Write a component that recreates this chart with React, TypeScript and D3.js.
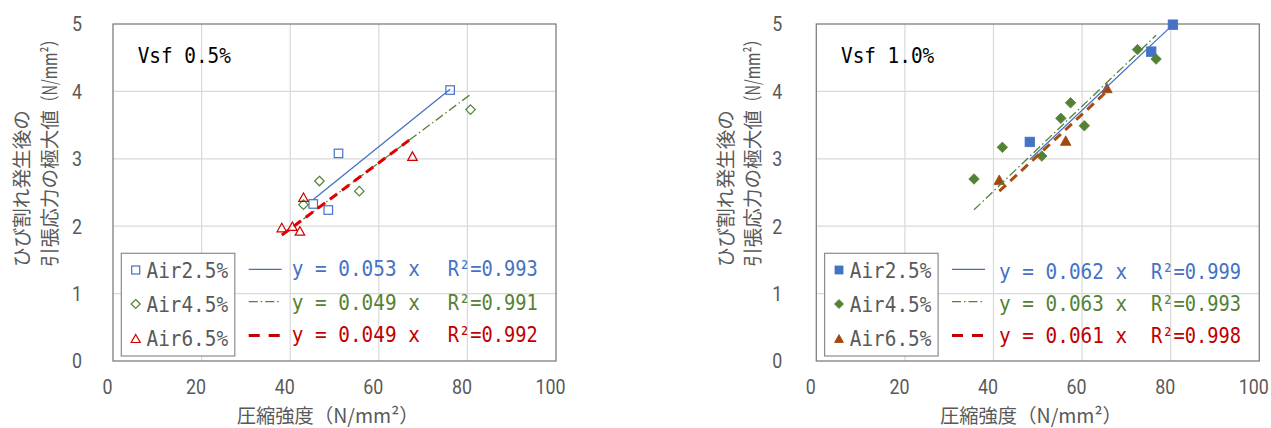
import React from "react";
import * as d3 from "d3";

// ---------- data ----------
const X_TICKS = [0, 20, 40, 60, 80, 100];
const Y_TICKS = [0, 1, 2, 3, 4, 5];
const SERIES_NAMES = ["Air2.5%", "Air4.5%", "Air6.5%"];

// Vsf 0.5%
const L_TITLE = "Vsf 0.5%";
const L_A25_X = [76.1, 50.9, 45.2, 48.6];
const L_A25_Y = [4.02, 3.08, 2.33, 2.24];
const L_A45_X = [80.7, 46.6, 55.6, 43.0];
const L_A45_Y = [3.73, 2.67, 2.52, 2.32];
const L_A65_X = [38.1, 40.5, 42.2, 43.0, 67.6];
const L_A65_Y = [1.98, 2.0, 1.93, 2.43, 3.04];
const L_SLOPES = [0.053, 0.049, 0.049];
const L_R2 = ["0.993", "0.991", "0.992"];

// Vsf 1.0%
const R_TITLE = "Vsf 1.0%";
const R_A25_X = [80.5, 75.6, 48.2];
const R_A25_Y = [4.99, 4.59, 3.25];
const R_A45_X = [35.6, 42.0, 50.9, 55.2, 57.4, 60.5, 72.5, 76.7];
const R_A45_Y = [2.7, 3.17, 3.04, 3.6, 3.83, 3.49, 4.62, 4.48];
const R_A65_X = [41.3, 56.3, 65.6];
const R_A65_Y = [2.69, 3.27, 4.05];
const R_SLOPES = [0.062, 0.063, 0.061];
const R_R2 = ["0.999", "0.993", "0.998"];

const X_TITLE_JP = "圧縮強度";
const UNIT = "（N/mm²）";
const Y_TITLE_1 = "ひび割れ発生後の";
const Y_TITLE_2 = "引張応力の極大値";

// ---------- styles ----------
const MONO = "'DejaVu Sans Mono', monospace";
const NUM = "Roboto, 'Noto Sans', sans-serif";
const JP = "'Noto Sans CJK JP', sans-serif";
const GRAY = "#595959";
const BLUE = "#4472C4";
const GREEN = "#548235";
const RED = "#C00000";

type Txt = {
  x: number; y: number; text: string; size: number; family: string; fill: string;
  anchor?: string; sx?: number; rotate?: number; dy?: string; len?: number;
};
function T({ x, y, text, size, family, fill, anchor = "start", sx = 1, rotate = 0, dy = "0.35em", len }: Txt) {
  return (
    <text
      transform={`translate(${x},${y}) rotate(${rotate}) scale(${sx},1)`}
      fontSize={size}
      fontFamily={family}
      fill={fill}
      textAnchor={anchor}
      dy={dy}
      textLength={len}
      lengthAdjust={len ? "spacingAndGlyphs" : undefined}
    >
      {text}
    </text>
  );
}

function marker(shape: string, cx: number, cy: number, s: number, color: string, filled: boolean, key: any) {
  const common = {
    key,
    fill: filled ? color : "none",
    stroke: color,
    strokeWidth: filled ? 0.8 : 1.2,
  };
  const h = s / 2;
  if (shape === "square") return <rect {...common} x={cx - h} y={cy - h} width={s} height={s} />;
  if (shape === "diamond")
    return <path {...common} d={`M${cx},${cy - h - 0.5}L${cx + h + 0.5},${cy}L${cx},${cy + h + 0.5}L${cx - h - 0.5},${cy}Z`} />;
  return <path {...common} d={`M${cx},${cy - h}L${cx + h + 0.5},${cy + h}L${cx - h - 0.5},${cy + h}Z`} />;
}

type ChartProps = {
  left: number;
  title: string;
  xs: number[][];
  ys: number[][];
  slopes: number[];
  r2: string[];
  filled: boolean;
  markerColors: string[];
  trendColors: string[];
  eqX: number;
  eqY: number[];
  yTickOff: number;
};

function Chart(p: ChartProps) {
  const W = 443;
  const top = 24, bottom = 361;
  const x = d3.scaleLinear().domain([0, 100]).range([p.left, p.left + W]);
  const y = d3.scaleLinear().domain([0, 5]).range([bottom, top]);
  const shapes = ["square", "diamond", "triangle"];
  const dashes = ["none", "9 3 1.5 3", "9 6"];
  const widths = [1.3, 1.3, 3];
  const legDashes = ["none", "9 3 1.5 3", "11 9"];
  const legX = p.left + 8.3;
  const legRows = [270, 304, 338.5];
  const lineRows = [269.3, 301.7, 335.5];
  const mSize = p.filled ? 9.5 : 8.5;
  const colors = [BLUE, GREEN, RED];
  return (
    <g>
      {/* grid */}
      {X_TICKS.slice(1, -1).map((t) => (
        <line key={"gx" + t} x1={x(t)} x2={x(t)} y1={top} y2={bottom} stroke="#d9d9d9" strokeWidth={1.2} />
      ))}
      {Y_TICKS.slice(1, -1).map((t) => (
        <line key={"gy" + t} x1={p.left} x2={p.left + W} y1={y(t)} y2={y(t)} stroke="#d9d9d9" strokeWidth={1.2} />
      ))}
      <rect x={p.left} y={top} width={W} height={bottom - top} fill="none" stroke="#7f7f7f" strokeWidth={1.3} />
      {/* ticks */}
      {Y_TICKS.map((t) => (
        <T key={"ty" + t} x={p.left + p.yTickOff} y={y(t)} text={String(t)} size={21} family={NUM} fill={GRAY} anchor="end" sx={0.85} />
      ))}
      {X_TICKS.map((t) => (
        <T key={"tx" + t} x={x(t) - 5.5} y={387} text={String(t)} size={21} family={NUM} fill={GRAY} anchor="middle" sx={0.85} />
      ))}
      {/* axis titles */}
      <T x={p.left + 123.7} y={416} text={X_TITLE_JP} size={19.5} family={JP} fill={GRAY} len={77} />
      <T x={p.left + 200.7} y={416} text={UNIT} size={19.5} family={JP} fill={GRAY} len={105} />
      <T x={p.left - 90.5} y={267} text={Y_TITLE_1} size={19.6} family={JP} fill={GRAY} rotate={-90} len={157} />
      <T x={p.left - 63} y={267} text={Y_TITLE_2} size={19.6} family={JP} fill={GRAY} rotate={-90} len={157} />
      <T x={p.left - 63} y={110} text={UNIT} size={19.6} family={JP} fill={GRAY} rotate={-90} len={78} />
      {/* markers */}
      {p.xs.map((xs, si) =>
        xs.map((v, i) => marker(shapes[si], x(v), y(p.ys[si][i]), mSize, p.markerColors[si], p.filled, si + "-" + i))
      )}
      {/* trend lines through origin */}
      {p.xs.map((xs, si) => {
        const x0 = d3.min(xs) as number;
        const x1 = d3.max(xs) as number;
        return (
          <line
            key={"tr" + si}
            x1={x(x0)}
            y1={y(p.slopes[si] * x0)}
            x2={x(x1)}
            y2={y(p.slopes[si] * x1)}
            stroke={p.trendColors[si]}
            strokeWidth={widths[si]}
            strokeDasharray={dashes[si]}
          />
        );
      })}
      {/* title */}
      <T x={p.left + 24.7} y={55} text={p.title} size={22} family={MONO} fill="#000" sx={0.88} />
      {/* legend */}
      <rect x={legX} y={253.3} width={113.5} height={102.7} fill="#fff" stroke="#8c8c8c" strokeWidth={1.2} />
      {SERIES_NAMES.map((n, i) => (
        <g key={"lg" + i}>
          {marker(shapes[i], p.left + 22.7, legRows[i], 8, p.markerColors[i], p.filled, "lm" + i)}
          <T x={p.left + 33.5} y={legRows[i]} text={n} size={22} family={MONO} fill={GRAY} sx={0.88} />
          <line
            x1={p.left + 135.7}
            x2={p.left + 168.7}
            y1={lineRows[i]}
            y2={lineRows[i]}
            stroke={colors[i]}
            strokeWidth={widths[i]}
            strokeDasharray={legDashes[i]}
          />
          <T x={p.left + p.eqX} y={p.eqY[i]} text={`y = ${p.slopes[i].toFixed(3)} x`} size={22} family={MONO} fill={colors[i]} sx={0.88} />
          <T x={p.left + 334.7} y={p.eqY[i]} text={`R²=${p.r2[i]}`} size={22} family={MONO} fill={colors[i]} sx={0.85} />
        </g>
      ))}
    </g>
  );
}

export default function App() {
  return (
    <svg
      width={1271}
      height={428}
      style={{ position: "absolute", left: 0, top: 0, background: "#fff" }}
    >
      <rect width={1271} height={428} fill="#fff" />
      <Chart
        left={113}
        title={L_TITLE}
        xs={[L_A25_X, L_A45_X, L_A65_X]}
        ys={[L_A25_Y, L_A45_Y, L_A65_Y]}
        slopes={L_SLOPES}
        r2={L_R2}
        filled={false}
        markerColors={[BLUE, GREEN, "#D00000"]}
        trendColors={[BLUE, GREEN, "#E00000"]}
        eqX={178.7}
        eqY={[268.5, 302, 334]}
        yTickOff={-31}
      />
      <Chart
        left={816.3}
        title={R_TITLE}
        xs={[R_A25_X, R_A45_X, R_A65_X]}
        ys={[R_A25_Y, R_A45_Y, R_A65_Y]}
        slopes={R_SLOPES}
        r2={R_R2}
        filled={true}
        markerColors={[BLUE, GREEN, "#9E480E"]}
        trendColors={[BLUE, GREEN, "#A84C12"]}
        eqX={182.7}
        eqY={[271, 303.5, 335.5]}
        yTickOff={-34}
      />
    </svg>
  );
}
